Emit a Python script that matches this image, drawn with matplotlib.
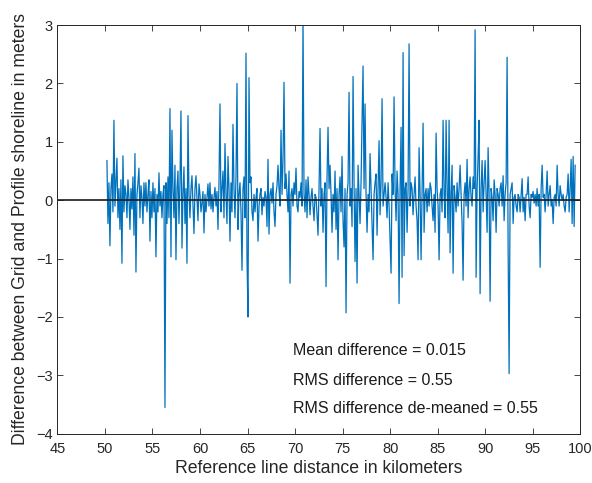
import numpy as np
import matplotlib
matplotlib.use("Agg")
import matplotlib.pyplot as plt

plt.rcParams['font.family'] = ['Liberation Sans', 'DejaVu Sans']

# sample spacing along the reference line (km)
km_start = 50.21
km_step = 0.10526

# grid minus profile shoreline (m), one value per sample
diff_m = [
    0.68, -0.4, 0.3, -0.78, 0.2, 0.45, -0.2, 1.37, -0.1, 0.3,
    0.72, -0.3, 0.2, -0.5, 0.35, -1.08, 0.76, -0.2, 0.25, 0.1,
    -0.3, 0.35, 0.05, -0.5, 0.2, -0.15, 0.4, -0.6, 0.8, -1.23,
    0.1, 0.3, 0.55, -0.3, 0.25, 0.05, -0.4, 0.3, -0.1, 0.3,
    -0.2, 0.1, 0.35, -0.7, 0.15, -0.3, 0.3, -0.2, 0.2, -0.97,
    0.1, -0.2, 0.47, -0.1, 0.15, -0.3, 0.1, 0.25, -3.55, 0.3,
    -0.4, 0.4, -0.3, 1.57, -0.97, 1.2, 0.2, -0.3, 0.6, -1.02,
    0.2, 0.5, -0.4, 0.3, 1.53, -0.82, 0.1, 0.57, -0.4, 0.2,
    -1.08, 1.45, 0.1, -0.3, 0.2, 0.42, -0.1, -0.57, 0.2, 0.42,
    0.05, -0.35, 0.28, 0.1, -0.2, -0.05, 0.15, -0.56, 0.1, -0.2,
    0.05, 0.28, -0.1, 0.3, -0.15, 0.1, -0.2, 0.05, 0.22, -0.1,
    0.15, -0.5, 0.3, 1.65, -0.2, 0.2, 0.5, -0.3, 0.97, 0.1,
    -0.4, 0.75, 0.2, -0.7, 0.3, -0.2, 1.3, 0.2, -0.3, 0.4,
    2.0, -0.5, 0.1, 0.3, -0.2, -1.2, 0.2, 0.4, -0.3, 2.52,
    -1.0, -2.0, 2.1, 0.3, 0.4, -0.2, -0.35, 0.1, -0.2, 0.05,
    0.2, -0.7, -0.1, 0.1, 0.2, -0.25, 0.05, -0.1, 0.15, 0.05,
    -0.45, 0.7, -0.58, 0.1, 0.2, -0.05, 0.3, -0.2, -0.45, 0.1,
    0.25, 0.6, 0.2, -0.1, 1.2, 0.1, 0.7, 2.02, 0.2, 0.45,
    0.1, -0.2, 0.5, -1.42, 0.1, 0.2, -0.1, 0.3, 0.1, 0.55,
    -0.1, -0.2, 0.15, 0.05, 0.3, -0.1, 3.1, 0.1, -0.2, 0.35,
    -0.3, 0.4, 0.1, -0.25, 0.05, 0.2, -0.1, -0.35, 0.1, 0.05,
    -0.25, -0.6, 0.2, 1.23, -0.1, 0.2, -0.55, 0.1, 0.3, -1.48,
    0.4, 1.25, 0.2, 0.6, 0.1, -0.55, 0.1, -0.2, 0.5, -0.5,
    0.2, -1.02, 0.1, 0.4, -0.2, 0.75, -0.35, -0.8, 0.2, -1.93,
    0.1, 0.3, 1.85, -0.1, 0.2, -0.45, 2.12, 0.3, -1.05, 0.2,
    -1.42, 0.6, 0.1, -0.4, 0.3, 1.37, 2.3, 0.2, 1.65, 0.1,
    -0.55, 0.1, -0.2, 0.8, 0.2, -0.35, -1.02, 0.1, 0.3, 0.45,
    -0.6, 0.2, 1.02, -0.25, 0.3, 1.74, -0.1, 0.1, 0.3, 0.05,
    -0.3, 0.3, -0.1, -0.65, -1.25, 0.45, 0.1, 1.77, 0.2, -0.35,
    0.5, 0.1, -1.77, 0.2, 1.25, -1.32, 2.53, -0.95, 0.2, 0.3,
    -0.55, 0.2, 2.68, -0.1, 0.3, 0.2, -0.25, 0.1, 0.4, -0.1,
    -0.35, -1.02, 0.9, 0.1, -1.02, 0.2, 1.32, -0.55, 0.1, 0.2,
    -0.2, 0.2, -0.1, 0.3, 0.2, -0.1, -0.35, 0.1, -0.55, 1.15,
    0.2, -0.1, -1.02, 0.1, 0.2, -0.2, 1.37, 0.1, -0.3, 1.37,
    0.2, -0.56, 1.37, -0.9, 0.1, 0.6, -1.25, 0.25, 0.05, -0.2,
    0.3, -0.1, 0.2, 0.6, 0.1, -0.4, -1.37, 0.1, 0.3, -0.1,
    0.7, -0.3, 0.2, 0.4, 0.05, -0.1, 0.4, 0.2, 2.92, -1.32,
    0.2, 0.75, 1.37, -1.6, 0.2, 0.68, -0.2, 0.3, 0.68, 0.1,
    -0.55, 0.9, 0.1, -1.73, 0.2, 0.05, -0.35, 0.35, 0.1, -0.55,
    0.2, 0.1, -0.1, 0.2, 0.3, -0.1, 0.42, -0.35, 0.1, 0.3,
    2.45, -0.8, -2.97, 0.1, 0.2, 0.3, -0.4, 0.05, 0.1, -0.1,
    -0.2, 0.1, 0.05, -0.2, 0.1, 0.37, -0.2, 0.05, -0.35, 0.1,
    0.1, 0.4, -0.1, -0.3, 0.1, 0.05, 0.15, -0.05, 0.1, -0.1,
    0.2, -0.1, 0.1, -1.15, 0.2, 0.6, 0.05, 0.1, -0.2, 0.1,
    0.5, -0.1, 0.1, 0.25, -0.1, 0.0, -0.4, 0.05, 0.1, -0.1,
    0.6, 0.1, -0.1, 0.25, 0.1, 0.0, 0.1, -0.1, -0.2, 0.05,
    0.1, 0.45, -0.2, 0.2, 0.7, -0.4, 0.75, -0.45, 0.6,
]

stats_text = [
    "Mean difference = 0.015",
    "RMS difference = 0.55",
    "RMS difference de-meaned = 0.55",
]
stats_y = [-2.57, -3.08, -3.56]

x_ticks = list(range(45, 101, 5))
y_ticks = list(range(-4, 4))

dist_km = km_start + km_step * np.arange(len(diff_m))

fig = plt.figure(figsize=(5.92, 4.83), dpi=100)
ax = fig.add_axes([0.097, 0.102, 0.883, 0.846])

ax.plot(dist_km, diff_m, color='#0072BD', lw=0.9)
ax.axhline(0, color='#1a1a1a', lw=1.2)

for txt, yy in zip(stats_text, stats_y):
    ax.text(69.8, yy, txt, fontsize=11.5, va='center', ha='left', color='#1a1a1a')

ax.set_xlim(45, 100)
ax.set_ylim(-4, 3)
ax.set_xticks(x_ticks)
ax.set_yticks(y_ticks)
ax.tick_params(direction='in', top=True, right=True, length=4,
               labelsize=10.5, colors='#262626', width=0.6)
ax.tick_params(axis='x', pad=6)
for sp in ax.spines.values():
    sp.set_color('#262626')
    sp.set_linewidth(0.7)

ax.set_xlabel('Reference line distance in kilometers', fontsize=12.7, color='#262626', labelpad=3)
ax.set_ylabel('Difference between Grid and Profile shoreline in meters', fontsize=12.7, color='#262626', labelpad=5)

fig.savefig('out.png', dpi=100)
